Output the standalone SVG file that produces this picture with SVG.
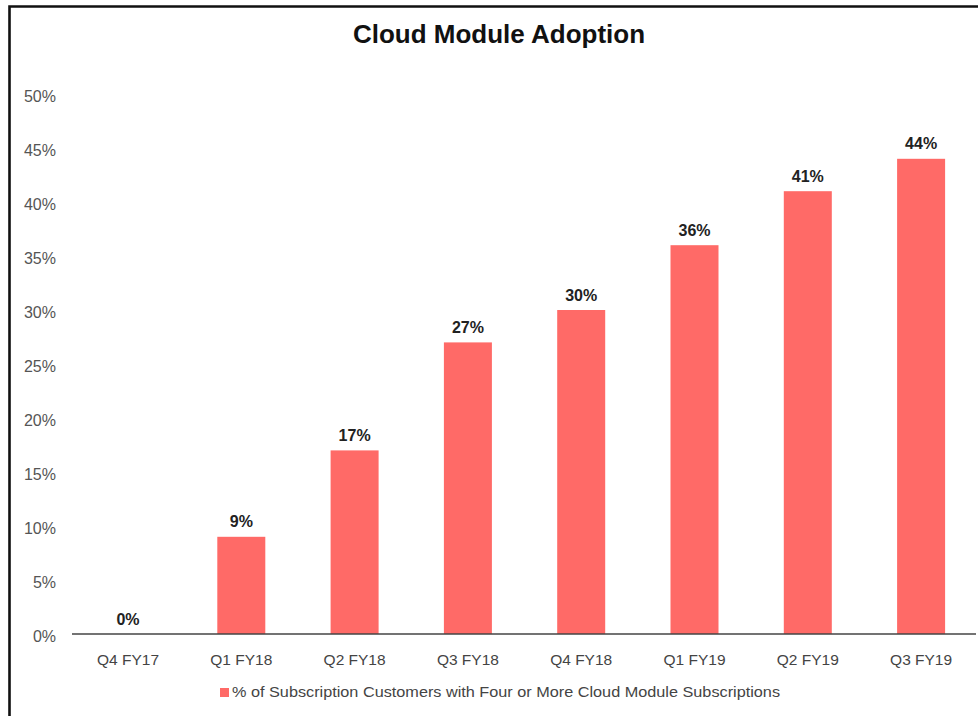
<svg xmlns="http://www.w3.org/2000/svg" width="978" height="716" viewBox="0 0 978 716">
<style>
.ylab{font-family:"Liberation Sans",Arial,sans-serif;font-size:16px;fill:#555;text-anchor:end}
.xlab{font-family:"Liberation Sans",Arial,sans-serif;font-size:15.5px;fill:#444;text-anchor:middle}
.val{font-family:"Liberation Sans",Arial,sans-serif;font-size:16px;font-weight:bold;fill:#222;text-anchor:middle}
.bar{fill:#FF6A67}
.title{font-family:"Liberation Sans",Arial,sans-serif;font-size:26px;font-weight:bold;fill:#111;text-anchor:middle}
.leg{font-family:"Liberation Sans",Arial,sans-serif;font-size:15px;fill:#444}
</style>
<rect width="978" height="716" fill="#fff"/>
<path d="M9.5,716 V6.5 H978" fill="none" stroke="#111" stroke-width="2.6"/>
<text id="title" class="title" x="499" y="43">Cloud Module Adoption</text>
<g id="y-axis">
<text class="ylab" x="56" y="101.5">50%</text>
<text class="ylab" x="56" y="155.5">45%</text>
<text class="ylab" x="56" y="209.5">40%</text>
<text class="ylab" x="56" y="263.5">35%</text>
<text class="ylab" x="56" y="317.5">30%</text>
<text class="ylab" x="56" y="371.5">25%</text>
<text class="ylab" x="56" y="425.5">20%</text>
<text class="ylab" x="56" y="479.5">15%</text>
<text class="ylab" x="56" y="533.5">10%</text>
<text class="ylab" x="56" y="587.5">5%</text>
<text class="ylab" x="56" y="641.5">0%</text>
</g>
<g id="bars">
<g id="bar-q4fy17"><text class="val" x="128" y="624.5">0%</text></g>
<g id="bar-q1fy18"><rect class="bar" x="217.3" y="536.8" width="48" height="97.2"/><text class="val" x="241.3" y="527.3">9%</text></g>
<g id="bar-q2fy18"><rect class="bar" x="330.6" y="450.4" width="48" height="183.6"/><text class="val" x="354.6" y="440.9">17%</text></g>
<g id="bar-q3fy18"><rect class="bar" x="443.9" y="342.4" width="48" height="291.6"/><text class="val" x="467.9" y="332.9">27%</text></g>
<g id="bar-q4fy18"><rect class="bar" x="557.2" y="310" width="48" height="324"/><text class="val" x="581.2" y="300.5">30%</text></g>
<g id="bar-q1fy19"><rect class="bar" x="670.5" y="245.2" width="48" height="388.8"/><text class="val" x="694.5" y="235.7">36%</text></g>
<g id="bar-q2fy19"><rect class="bar" x="783.8" y="191.2" width="48" height="442.8"/><text class="val" x="807.8" y="181.7">41%</text></g>
<g id="bar-q3fy19"><rect class="bar" x="897.1" y="158.8" width="48" height="475.2"/><text class="val" x="921.1" y="149.3">44%</text></g>
</g>
<line id="x-axis-line" x1="72" y1="634" x2="976" y2="634" stroke="#444" stroke-width="1.6"/>
<g id="x-axis">
<text class="xlab" x="128" y="665">Q4 FY17</text>
<text class="xlab" x="241.3" y="665">Q1 FY18</text>
<text class="xlab" x="354.6" y="665">Q2 FY18</text>
<text class="xlab" x="467.9" y="665">Q3 FY18</text>
<text class="xlab" x="581.2" y="665">Q4 FY18</text>
<text class="xlab" x="694.5" y="665">Q1 FY19</text>
<text class="xlab" x="807.8" y="665">Q2 FY19</text>
<text class="xlab" x="921.1" y="665">Q3 FY19</text>
</g>
<g id="legend">
<rect x="220" y="688" width="9" height="9" fill="#FF6A67"/>
<text class="leg" x="232" y="697" textLength="548" lengthAdjust="spacingAndGlyphs">% of Subscription Customers with Four or More Cloud Module Subscriptions</text>
</g>
</svg>
